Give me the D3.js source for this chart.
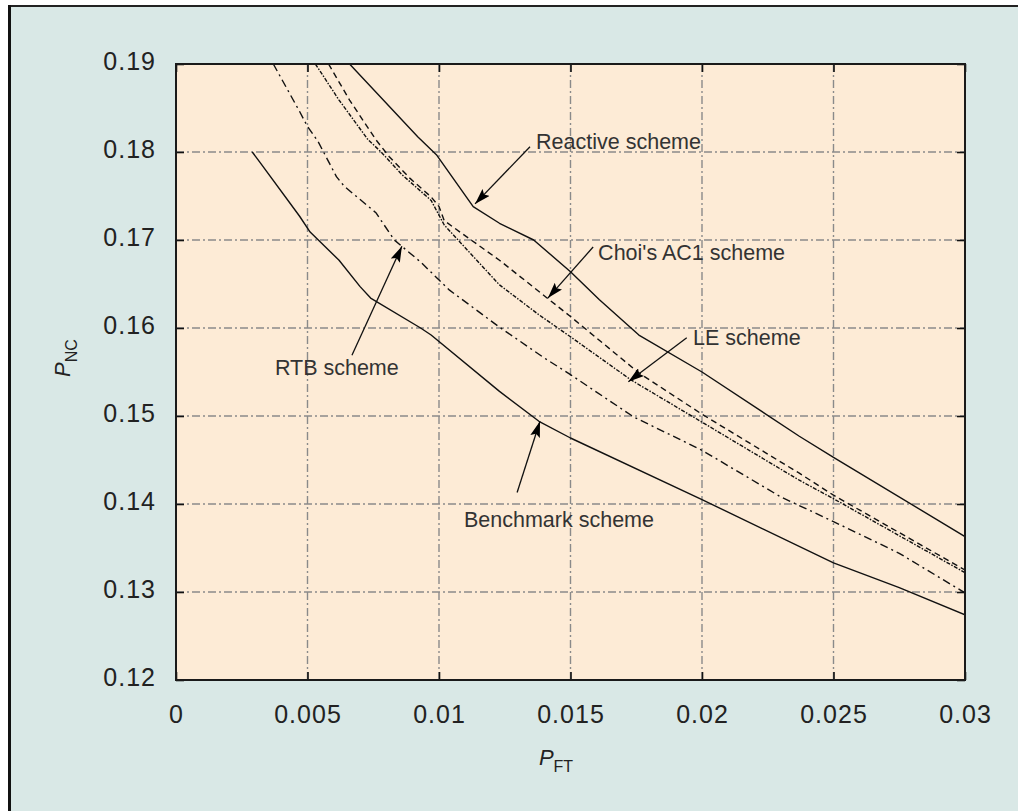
<!DOCTYPE html>
<html>
<head>
<meta charset="utf-8">
<script src="https://cdn.jsdelivr.net/npm/d3@7"></script>
<style>
  body { margin: 0; background: #fff; }
  svg { display: block; font-family: "Liberation Sans", Arial, sans-serif; }
</style>
</head>
<body>
<svg id="graphic"></svg>
<script>
// tick values
const pftTicks = [0, 0.005, 0.01, 0.015, 0.02, 0.025, 0.03]
const pncTicks = [0.12, 0.13, 0.14, 0.15, 0.16, 0.17, 0.18, 0.19]

// curves, [P_FT, P_NC]
const reactiveScheme = [
  [0.0066, 0.1900], [0.0092, 0.1817], [0.0099, 0.1797], [0.0113, 0.1738],
  [0.0123, 0.1719], [0.0136, 0.1700], [0.0150, 0.1664], [0.0161, 0.1632],
  [0.0176, 0.1592], [0.0200, 0.1550], [0.0237, 0.1477], [0.0250, 0.1453],
  [0.0300, 0.1363]
]
const choiScheme = [
  [0.0058, 0.1900], [0.0066, 0.1859], [0.0076, 0.1814], [0.0081, 0.1795],
  [0.0089, 0.1770], [0.0097, 0.1749], [0.0100, 0.1738], [0.0102, 0.1722],
  [0.0108, 0.1709], [0.0123, 0.1677], [0.0142, 0.1632], [0.0150, 0.1613],
  [0.0176, 0.1549], [0.0200, 0.1502], [0.0237, 0.1435], [0.0250, 0.1410],
  [0.0300, 0.1325]
]
const leScheme = [
  [0.0053, 0.1900], [0.0062, 0.1859], [0.0073, 0.1814], [0.0078, 0.1800],
  [0.0086, 0.1774], [0.0097, 0.1745], [0.0102, 0.1717], [0.0123, 0.1649],
  [0.0138, 0.1615], [0.0150, 0.1590], [0.0173, 0.1541], [0.0200, 0.1493],
  [0.0237, 0.1427], [0.0250, 0.1406], [0.0300, 0.1322]
]
const rtbScheme = [
  [0.0037, 0.1900], [0.0047, 0.1846], [0.0050, 0.1829], [0.0054, 0.1812],
  [0.0061, 0.1772], [0.0064, 0.1761], [0.0076, 0.1731], [0.0083, 0.1700],
  [0.0093, 0.1675], [0.0104, 0.1643], [0.0123, 0.1601], [0.0140, 0.1566],
  [0.0150, 0.1547], [0.0174, 0.1499], [0.0200, 0.1461], [0.0230, 0.1408],
  [0.0250, 0.1380], [0.0275, 0.1344], [0.0300, 0.1299]
]
const benchmarkScheme = [
  [0.0029, 0.1800], [0.0032, 0.1788], [0.0047, 0.1727], [0.0051, 0.1709],
  [0.0062, 0.1677], [0.0070, 0.1647], [0.0074, 0.1634], [0.0093, 0.1600],
  [0.0097, 0.1592], [0.0123, 0.1528], [0.0138, 0.1494], [0.0150, 0.1475],
  [0.0200, 0.1405], [0.0250, 0.1333], [0.0275, 0.1305], [0.0300, 0.1274]
]

// label names and where they sit / point to, in data units
const labelNames = ["Reactive scheme", "Choi's AC1 scheme", "LE scheme", "RTB scheme", "Benchmark scheme"]
const labelAt = [[0.01369, 0.1803], [0.01605, 0.1677], [0.01966, 0.1581], [0.00376, 0.1547], [0.01095, 0.1374]]
const arrowFrom = [[0.01346, 0.1806], [0.01586, 0.1692], [0.01942, 0.1589], [0.00669, 0.1569], [0.01297, 0.1413]]
const arrowTo = [[0.01137, 0.1741], [0.01414, 0.1634], [0.0172, 0.1539], [0.00859, 0.1693], [0.01384, 0.1494]]

const w = 1018
const h = 811
const pLeft = 176, pRight = 965, pTop = 64, pBottom = 680

const svg = d3.select("#graphic").attr("width", w).attr("height", h)

// panel background and frame
svg.append("rect").attr("x", 8).attr("y", 5).attr("width", w - 8).attr("height", h - 5).attr("fill", "#d9e8e6")
svg.append("line").attr("x1", 8).attr("x2", w).attr("y1", 6).attr("y2", 6).attr("stroke", "#222").attr("stroke-width", 2)
svg.append("line").attr("x1", 9.5).attr("x2", 9.5).attr("y1", 5).attr("y2", h).attr("stroke", "#111").attr("stroke-width", 3)

const xScale = d3.scaleLinear().domain([0, 0.03]).range([pLeft, pRight])
const yScale = d3.scaleLinear().domain([0.12, 0.19]).range([pBottom, pTop])

svg.append("rect")
  .attr("x", pLeft).attr("y", pTop)
  .attr("width", pRight - pLeft).attr("height", pBottom - pTop)
  .attr("fill", "#fdebd6")

svg.append("clipPath").attr("id", "plotclip")
  .append("rect").attr("x", pLeft).attr("y", pTop).attr("width", pRight - pLeft).attr("height", pBottom - pTop)

// grid, dash-dot grey
const grid = svg.append("g").attr("stroke", "#8a8a8a").attr("stroke-width", 1.4).attr("stroke-dasharray", "8,3,2,3")
grid.selectAll(".vg").data(pftTicks.slice(1, -1)).enter().append("line")
  .attr("x1", d => xScale(d)).attr("x2", d => xScale(d))
  .attr("y1", pTop).attr("y2", pBottom)
grid.selectAll(".hg").data(pncTicks.slice(1, -1)).enter().append("line")
  .attr("y1", d => yScale(d)).attr("y2", d => yScale(d))
  .attr("x1", pLeft).attr("x2", pRight)

// curves
const line = d3.line().x(d => xScale(d[0])).y(d => yScale(d[1]))
const series = [
  { data: benchmarkScheme, dash: null },
  { data: rtbScheme, dash: "8,4,2,4" },
  { data: leScheme, dash: "4,1.5,1.5,1.5" },
  { data: choiScheme, dash: "6,4" },
  { data: reactiveScheme, dash: null }
]
svg.append("g").attr("clip-path", "url(#plotclip)")
  .selectAll("path").data(series).enter().append("path")
  .attr("d", d => line(d.data))
  .attr("fill", "none")
  .attr("stroke", "#111")
  .attr("stroke-width", 1.4)
  .attr("stroke-linejoin", "round")
  .attr("stroke-dasharray", d => d.dash)

// axes with inward ticks
const axisStyle = g => {
  g.select(".domain").remove()
  g.selectAll(".tick line").attr("stroke", "#111").attr("stroke-width", 1.6)
  g.selectAll(".tick text").attr("fill", "#222").attr("font-size", 25).attr("letter-spacing", 1)
    .attr("font-family", "Liberation Sans, Arial, sans-serif")
}

svg.append("g")
  .attr("transform", `translate(0, ${pBottom})`)
  .call(d3.axisBottom(xScale).tickValues(pftTicks).tickSizeInner(-8).tickSizeOuter(0).tickPadding(25).tickFormat(d3.format("")))
  .call(axisStyle)

svg.append("g")
  .attr("transform", `translate(${pLeft}, 0)`)
  .call(d3.axisLeft(yScale).tickValues(pncTicks).tickSizeInner(-8).tickSizeOuter(0).tickPadding(20).tickFormat(d3.format(".2f")))
  .call(axisStyle)
  .selectAll(".tick text").attr("dy", "0.22em")

svg.append("g")
  .attr("transform", `translate(0, ${pTop})`)
  .call(d3.axisTop(xScale).tickValues(pftTicks).tickSizeInner(-8).tickSizeOuter(0).tickFormat(""))
  .call(axisStyle)

svg.append("g")
  .attr("transform", `translate(${pRight}, 0)`)
  .call(d3.axisRight(yScale).tickValues(pncTicks).tickSizeInner(-8).tickSizeOuter(0).tickFormat(""))
  .call(axisStyle)

// plot border
svg.append("rect")
  .attr("x", pLeft).attr("y", pTop)
  .attr("width", pRight - pLeft).attr("height", pBottom - pTop)
  .attr("fill", "none").attr("stroke", "#1a1a1a").attr("stroke-width", 2)

// arrows + labels
svg.append("defs").append("marker")
  .attr("id", "head")
  .attr("viewBox", "0 0 16 10")
  .attr("refX", 16).attr("refY", 5)
  .attr("markerWidth", 16).attr("markerHeight", 10)
  .attr("markerUnits", "userSpaceOnUse")
  .attr("orient", "auto")
  .append("path").attr("d", "M0,0 L16,5 L0,10 L3,5 Z").attr("fill", "#000")

const notes = svg.append("g")
labelNames.forEach((name, i) => {
  notes.append("line")
    .attr("x1", xScale(arrowFrom[i][0])).attr("y1", yScale(arrowFrom[i][1]))
    .attr("x2", xScale(arrowTo[i][0])).attr("y2", yScale(arrowTo[i][1]))
    .attr("stroke", "#111").attr("stroke-width", 1.3)
    .attr("marker-end", "url(#head)")
  notes.append("text")
    .attr("x", xScale(labelAt[i][0])).attr("y", yScale(labelAt[i][1]))
    .attr("font-size", 21.5).attr("fill", "#333")
    .text(name)
})

// axis titles
const xt = svg.append("text").attr("transform", "translate(556, 765)").attr("text-anchor", "middle").attr("fill", "#222")
xt.append("tspan").attr("font-style", "italic").attr("font-size", 22).text("P")
xt.append("tspan").attr("font-size", 16).attr("dy", 7).text("FT")

const yt = svg.append("text").attr("transform", "translate(70, 358) rotate(-90)").attr("text-anchor", "middle").attr("fill", "#222")
yt.append("tspan").attr("font-style", "italic").attr("font-size", 22).text("P")
yt.append("tspan").attr("font-size", 16).attr("dy", 7).text("NC")
</script>
</body>
</html>
